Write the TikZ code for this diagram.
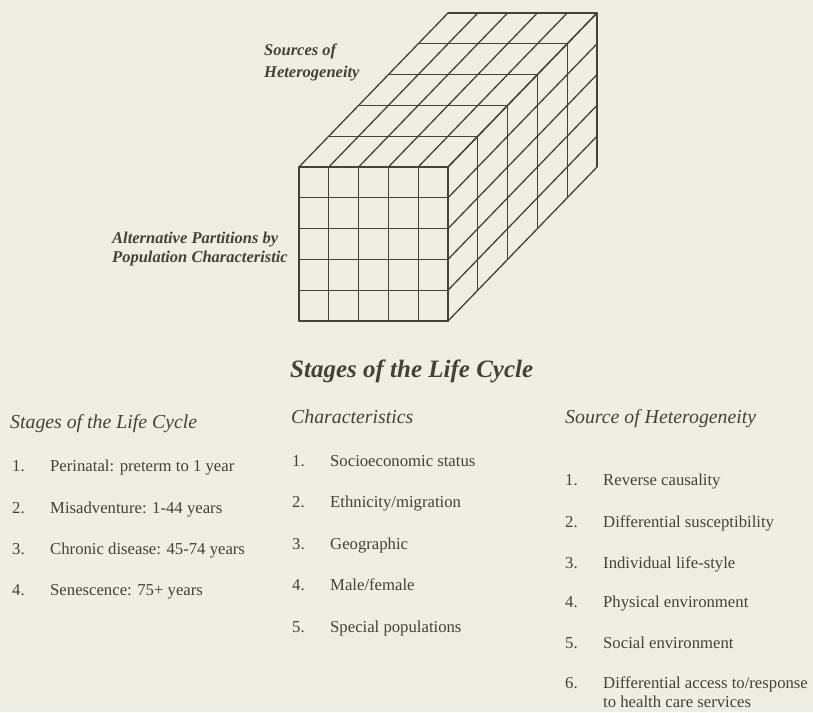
\documentclass[tikz,border=0pt]{standalone}
\usepackage{fontspec}
\setmainfont{Liberation Serif}
\definecolor{paper}{HTML}{EFEEE3}
\definecolor{ink}{HTML}{424239}
\tikzset{
  txt/.style={anchor=base west, inner sep=0pt, text=ink, font=\fontsize{16.7}{19}\selectfont},
  colhead/.style={anchor=base west, inner sep=0pt, text=ink, font=\fontsize{19.8}{23}\selectfont\itshape},
  cubelab/.style={anchor=base west, inner sep=0pt, text=ink, font=\fontsize{16.5}{19}\selectfont\bfseries\itshape},
  title/.style={anchor=base west, inner sep=0pt, text=ink, font=\fontsize{25}{30}\selectfont\bfseries\itshape},
  gridline/.style={draw=ink, line width=1.3pt, line cap=round}
}
\begin{document}
\begin{tikzpicture}[x=1pt,y=-1pt]
\fill[paper] (0,0) rectangle (813,712);
\useasboundingbox (0,0) rectangle (813,712);
% cube
\def\cw{29.8}\def\ch{30.8}
\begin{scope}[gridline]
\foreach \i in {0,...,5}{
  % front face
  \draw (299+\i*\cw,167) -- (299+\i*\cw,321);
  \draw (299,167+\i*\ch) -- (448,167+\i*\ch);
  % top face
  \draw (299+\i*\cw,167) -- (299+\i*\cw+5*\cw,167-5*\ch);
  \draw (299+\i*\cw,167-\i*\ch) -- (448+\i*\cw,167-\i*\ch);
  % right face
  \draw (448,167+\i*\ch) -- (448+5*\cw,167+\i*\ch-5*\ch);
  \draw (448+\i*\cw,167-\i*\ch) -- (448+\i*\cw,321-\i*\ch);
}
\end{scope}
% cube labels
\node[cubelab] (src1) at (264,55) {Sources of};
\node[cubelab] (src2) at (264,77) {Heterogeneity};
\node[cubelab] (alt1) at (112,243) {Alternative Partitions by};
\node[cubelab] (alt2) at (112,262) {Population Characteristic};
\node[title] (title) at (290,377) {Stages of the Life Cycle};
% column 1
\node[colhead] (h1) at (10,428) {Stages of the Life Cycle};
\foreach \n/\y/\t in {1/471/{Perinatal: preterm to 1 year},2/513/{Misadventure: 1-44 years},3/554/{Chronic disease: 45-74 years},4/595/{Senescence: 75+ years}}{
  \node[txt] (a\n) at (12,\y) {\n.};
  \node[txt] (at\n) at (50,\y) {\t};
}
% column 2
\node[colhead] (h2) at (291,423) {Characteristics};
\foreach \n/\y/\t in {1/466/{Socioeconomic status},2/507/{Ethnicity/migration},3/549/{Geographic},4/590/{Male/female},5/632/{Special populations}}{
  \node[txt] (b\n) at (292,\y) {\n.};
  \node[txt] (bt\n) at (330,\y) {\t};
}
% column 3
\node[colhead] (h3) at (565,423) {Source of Heterogeneity};
\foreach \n/\y/\t in {1/485/{Reverse causality},2/527/{Differential susceptibility},3/568/{Individual life-style},4/607/{Physical environment},5/648/{Social environment},6/688/{Differential access to/response}}{
  \node[txt] (c\n) at (565,\y) {\n.};
  \node[txt] (ct\n) at (603,\y) {\t};
}
\node[txt] (ct6b) at (603,707) {to health care services};
\end{tikzpicture}
\end{document}
